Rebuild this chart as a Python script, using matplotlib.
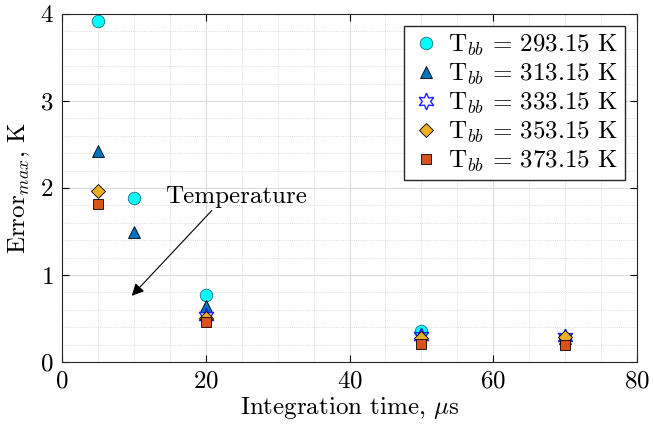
import matplotlib
matplotlib.use('Agg')
import matplotlib.pyplot as plt

plt.rcParams['font.family'] = 'serif'
plt.rcParams['font.serif'] = ['cmr10', 'DejaVu Serif']
plt.rcParams['mathtext.fontset'] = 'cm'
plt.rcParams['axes.formatter.use_mathtext'] = True

# Datos
t_int = [5, 10, 20, 50, 70]
err_293 = [3.92, 1.885, 0.77, 0.36, 0.28]
err_313 = [2.43, 1.49, 0.64, 0.32, 0.28]
err_333 = [None, None, 0.53, 0.30, 0.29]
err_353 = [1.96, None, 0.50, 0.27, 0.29]
err_373 = [1.82, None, 0.46, 0.21, 0.20]

etiquetas = [r'T$_{bb}$ = 293.15 K', r'T$_{bb}$ = 313.15 K', r'T$_{bb}$ = 333.15 K',
             r'T$_{bb}$ = 353.15 K', r'T$_{bb}$ = 373.15 K']

fs = 18


def puntos(y):
    xs = [x for x, v in zip(t_int, y) if v is not None]
    ys = [v for v in y if v is not None]
    return xs, ys


fig = plt.figure(figsize=(6.53, 4.34), dpi=100)
ax = fig.add_axes([0.095, 0.166, 0.8805, 0.802])

x, y = puntos(err_293)
ax.plot(x, y, 'o', ls='none', ms=9, mfc='#00FFFF', mec='#1a6f7a', mew=0.6, label=etiquetas[0])
x, y = puntos(err_313)
ax.plot(x, y, '^', ls='none', ms=9, mfc='#0072BD', mec='black', mew=0.6, label=etiquetas[1])
x, y = puntos(err_333)
ax.plot(x, y, marker=(6, 1, 0), ls='none', ms=12, mfc='none', mec='#1f1fff', mew=1.0, label=etiquetas[2])
x, y = puntos(err_353)
ax.plot(x, y, 'D', ls='none', ms=7, mfc='#EDB120', mec='black', mew=0.6, label=etiquetas[3])
x, y = puntos(err_373)
ax.plot(x, y, 's', ls='none', ms=7, mfc='#D95319', mec='black', mew=0.6, label=etiquetas[4])

ax.set_xlim(0, 80)
ax.set_ylim(0, 4)
ax.set_xticks([0, 20, 40, 60, 80])
ax.set_yticks([0, 1, 2, 3, 4])
ax.set_xticks(range(0, 81, 5), minor=True)
ax.set_yticks([i * 0.2 for i in range(21)], minor=True)
ax.grid(which='major', color='#dcdcdc', lw=0.8)
ax.grid(which='minor', color='#d0d0d0', lw=0.6, ls=':')
ax.set_axisbelow(True)
ax.tick_params(which='both', direction='in', top=True, right=True, labelsize=fs)
ax.tick_params(which='minor', length=0)
ax.tick_params(which='major', length=5, pad=6)
for s in ax.spines.values():
    s.set_color('#262626')
    s.set_linewidth(0.8)

ax.set_xlabel(r'Integration time, $\mu$s', fontsize=fs, labelpad=2)
ax.set_ylabel(r'Error$_{max}$, K', fontsize=fs, labelpad=6)

ax.annotate('Temperature', xy=(9.7, 0.76), xytext=(14.3, 1.9), fontsize=fs, va='center',
            arrowprops=dict(arrowstyle='-|>', color='black', lw=0.8, shrinkA=0, shrinkB=0,
                            relpos=(0.35, 0.0)))

ax.legend(loc='upper right', fontsize=fs, frameon=True, fancybox=False, edgecolor='#262626',
          framealpha=1, handletextpad=0.3, borderpad=0.25, labelspacing=0.15, handlelength=1.2,
          borderaxespad=0.5)

fig.savefig('out.png', dpi=100)
